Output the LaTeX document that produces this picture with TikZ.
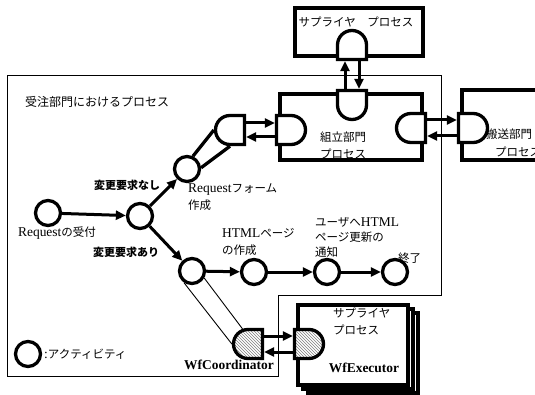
\documentclass[tikz,border=0pt]{standalone}
\usepackage{fontspec}
\setmainfont{Liberation Serif}[Scale=1.17]
\newfontfamily\jp{Noto Sans CJK JP}
\usetikzlibrary{arrows.meta,shapes.misc,patterns,calc}
\begin{document}
\begin{tikzpicture}[x=1pt,y=-1pt,
  act/.style={circle, draw, line width=3.3pt, minimum size=25pt, inner sep=0pt, fill=white},
  dsh/.style={rounded rectangle, draw, line width=3.3pt, minimum height=29pt, minimum width=22pt, inner sep=0pt, fill=white},
  rw/.style={dsh, rounded rectangle east arc=none},
  re/.style={dsh, rounded rectangle west arc=none},
  hatch/.style={preaction={fill=white}, pattern=north west lines, pattern color=gray},
  box/.style={draw, line width=3.3pt, fill=white, inner sep=0pt},
  arr/.style={line width=3pt, -{Triangle[length=10pt,width=9pt]}},
  thinl/.style={line width=0.9pt},
  txt/.style={inner sep=0pt, font=\fontsize{11.5}{16.5}\selectfont, align=left},
  jptxt/.style={inner sep=0pt, font=\fontsize{11.5}{16.5}\selectfont\jp, align=left},
  jpb/.style={inner sep=0pt, font=\fontsize{11}{14}\selectfont\jp\bfseries},
  latb/.style={inner sep=0pt, font=\fontsize{11.5}{14}\selectfont\bfseries}
]
\clip (0,0) rectangle (535,395);
\fill[white] (0,0) rectangle (535,395);

% outer frame
\draw[thinl] (7,75) -- (441,75) -- (441,295) -- (278,295) -- (278,376) -- (7,376) -- cycle;

% boxes
\node[box, minimum width=128pt, minimum height=48pt] (supbox) at (359,32) {};
\node[box, minimum width=142pt, minimum height=66pt] (asmbox) at (351,127) {};
\node[box, minimum width=98pt, minimum height=70pt] (shipbox) at (511,125) {};
\node[box, minimum width=110pt, minimum height=80pt] (stk3) at (363,353) {};
\node[box, minimum width=110pt, minimum height=80pt] (stk2) at (358,349) {};
\node[box, minimum width=110pt, minimum height=80pt] (stk1) at (353,345) {};

% D shapes
\node[re, rotate=90] (supB) at (352,45) {};
\node[rw, rotate=90] (asmT) at (352,105) {};
\node[re] (asmL) at (291,130) {};
\node[rw] (asmR) at (411,128) {};
\node[re] (shipL) at (473,128) {};
\node[rw] (fd) at (230,130) {};
\node[rw, hatch] (wfc) at (248,344) {};
\node[re, hatch] (wfe) at (309,344) {};

% activities
\node[act] (c0) at (48,213) {};
\node[act] (c1) at (140,216) {};
\node[act] (c2) at (187,169) {};
\node[act] (c3) at (192,271) {};
\node[act] (c4) at (254,272) {};
\node[act] (c5) at (327,272) {};
\node[act] (c6) at (395,272) {};
\node[act] (lg) at (28,354) {};

% flow arrows
\draw[arr] (c0) -- (c1);
\draw[arr] (c1) -- (c2);
\draw[arr] (c1) -- (c3);
\draw[arr] (c3) -- (c4);
\draw[arr] (c4) -- (c5);
\draw[arr] (c5) -- (c6);

% decomposition lines
\draw[line width=3.3pt] (c2.65) -- (fd.west);
\draw[line width=3.3pt] (c2.5) -- (fd.south);
\draw[thinl] (c3.235) -- (wfc.west);
\draw[thinl] (c3.-30) -- (wfc.110);

% interface arrows
\draw[arr] ($(fd.east)+(0,-7)$) -- ($(asmL.west)+(0,-7)$);
\draw[arr] ($(asmL.west)+(0,7)$) -- ($(fd.east)+(0,7)$);
\draw[arr] ($(asmR.east)+(0,-8)$) -- ($(shipL.west)+(0,-8)$);
\draw[arr] ($(shipL.west)+(0,8)$) -- ($(asmR.east)+(0,8)$);
\draw[arr] ($(asmT.east)+(-7,0)$) -- ($(supB.west)+(-7,0)$);
\draw[arr] ($(supB.west)+(7,0)$) -- ($(asmT.east)+(7,0)$);
\draw[arr] ($(wfc.east)+(0,-8)$) -- ($(wfe.west)+(0,-8)$);
\draw[arr] ($(wfe.west)+(0,8)$) -- ($(wfc.east)+(0,8)$);

% labels (multi-line nodes: base = last line's baseline)
\node[jptxt, anchor=west, font=\fontsize{12}{16}\selectfont\jp] (ttl) at (25,102) {受注部門におけるプロセス};
\node[jptxt] (suplbl) at (356,22) {サプライヤ　プロセス};
\node[jptxt, anchor=base west, font=\fontsize{11.5}{17}\selectfont\jp] (asmlbl) at (320,158.5) {組立部門\\プロセス};
\node[jptxt, anchor=base west, font=\fontsize{11.5}{17.5}\selectfont\jp] (shiplbl) at (486,156.5) {搬送部門\\\hspace*{9pt}プロセス};
\node[jpb] (nasi) at (127,185) {変更要求なし};
\node[jpb] (ari) at (126,252) {変更要求あり};
\node[txt] (l0) at (57,233) {Request{\jp の受付}};
\node[txt, anchor=base west, font=\fontsize{11.5}{17}\selectfont] (l2) at (188,209.5) {Request{\jp フォーム}\\{\jp 作成}};
\node[txt, anchor=base west, font=\fontsize{11.5}{17}\selectfont] (l4) at (222,254.5) {HTML{\jp ページ}\\{\jp の作成}};
\node[txt, anchor=base west, font=\fontsize{11.5}{15}\selectfont] (l5) at (315,256.5) {{\jp ユーザへ}HTML\\{\jp ページ更新の}\\{\jp 通知}};
\node[jptxt, anchor=west] (l6) at (398,258) {終了};
\node[jptxt, anchor=base west] (stklbl) at (333,334) {サプライヤ\\プロセス};
\node[latb] (wfelbl) at (364,368) {WfExecutor};
\node[latb] (wfclbl) at (229,365) {WfCoordinator};
\node[txt, anchor=west] (lgl) at (44,354) {:{\jp アクティビティ}};
\end{tikzpicture}
\end{document}
